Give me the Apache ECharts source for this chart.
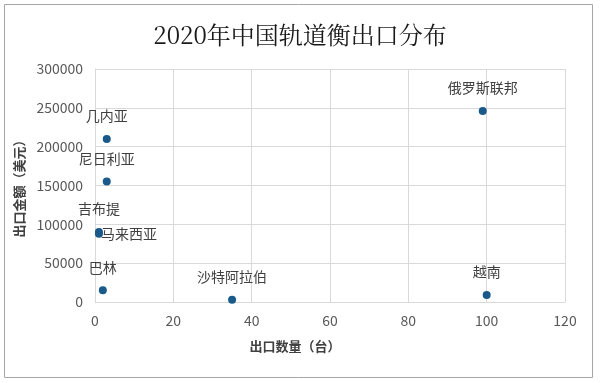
<!DOCTYPE html>
<html><head><meta charset="utf-8">
<script src="https://cdn.jsdelivr.net/npm/echarts@6/dist/echarts.min.js"></script>
<style>html,body{margin:0;padding:0;background:#fff}#c{width:600px;height:383px}</style>
</head><body><div id="c"></div>
<script>
const countries = ['几内亚','尼日利亚','吉布提','马来西亚','巴林','沙特阿拉伯','俄罗斯联邦','越南'];
const quantity = [3, 3, 1, 1, 2, 35, 99, 100];
const amount = [210000, 155000, 90000, 88000, 15000, 3000, 246000, 9000];
const labelPos = ['top','top','top','right','top','top','top','top'];
const xTicks = [0,20,40,60,80,100,120];
const yTicks = [0,50000,100000,150000,200000,250000,300000];

const data = countries.map((n,i)=>({name:n, value:[quantity[i], amount[i]], label:{position:labelPos[i], distance: labelPos[i]==='right'?-2:12}}));
const chart = echarts.init(document.getElementById('c'));
chart.setOption({
  animation:false,
  title:{text:'2020年中国轨道衡出口分布', left:'center', top:18,
    textStyle:{fontFamily:'"Noto Serif CJK SC","Noto Sans CJK SC",serif', fontSize:24, fontWeight:'normal', color:'#1a1a1a'}},
  graphic:[{type:'rect', shape:{x:4.5,y:4.5,width:588,height:373}, style:{fill:'none', stroke:'#a6a6a6', lineWidth:1}, silent:true}],
  grid:{left:95, right:35, top:69, bottom:81},
  xAxis:{type:'value', min:xTicks[0], max:xTicks[xTicks.length-1], interval:20,
    name:'出口数量（台）', nameLocation:'middle', nameGap:38,
    nameTextStyle:{fontFamily:'"Noto Sans CJK SC"', fontSize:13, fontWeight:'bold', color:'#404040', padding:[0,70,0,0]},
    axisLine:{show:false}, axisTick:{show:false},
    axisLabel:{fontFamily:'"Noto Sans CJK SC"', fontSize:14, color:'#595959', margin:12},
    splitLine:{lineStyle:{color:'#d9d9d9'}}},
  yAxis:{type:'value', min:yTicks[0], max:yTicks[yTicks.length-1], interval:50000,
    name:'出口金额（美元）', nameLocation:'middle', nameGap:68,
    nameTextStyle:{fontFamily:'"Noto Sans CJK SC"', fontSize:13, fontWeight:'bold', color:'#404040'},
    axisLine:{show:true, lineStyle:{color:'#d9d9d9'}}, axisTick:{show:false},
    axisLabel:{fontFamily:'"Noto Sans CJK SC"', fontSize:14, color:'#595959', margin:12, formatter:v=>String(v)},
    splitLine:{lineStyle:{color:'#d9d9d9'}}},
  series:[{type:'scatter', symbolSize:8, itemStyle:{color:'#1a5a8a', opacity:1},
    label:{show:true, formatter:'{b}', fontFamily:'"Noto Sans CJK SC"', fontSize:14, color:'#404040'},
    data:data}]
});
</script></body></html>
